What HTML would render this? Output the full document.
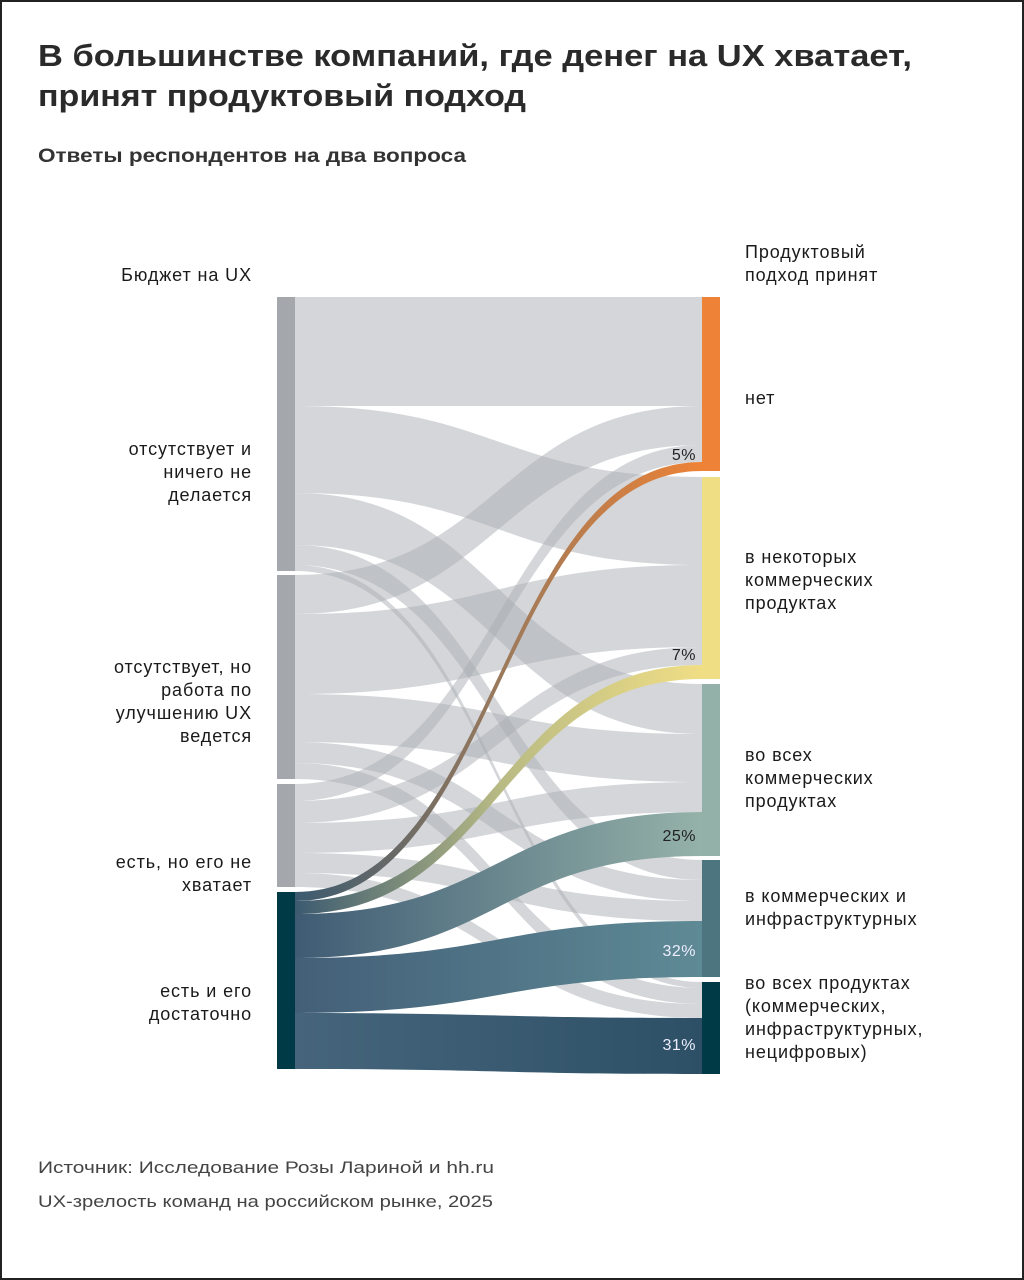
<!DOCTYPE html>
<html><head><meta charset="utf-8"><style>
html,body{margin:0;padding:0;background:#fff}
svg{display:block}
text{font-family:"Liberation Sans",sans-serif}
</style></head><body>
<svg width="1024" height="1280" viewBox="0 0 1024 1280" xmlns="http://www.w3.org/2000/svg">
<defs>
<linearGradient id="g1" gradientUnits="userSpaceOnUse" x1="295" y1="0" x2="702" y2="0"><stop offset="0" stop-color="#3b5a70"/><stop offset="0.5" stop-color="#9a7a5c"/><stop offset="1" stop-color="#ee8236"/></linearGradient>
<linearGradient id="g2" gradientUnits="userSpaceOnUse" x1="295" y1="0" x2="702" y2="0"><stop offset="0" stop-color="#3b5a70"/><stop offset="0.5" stop-color="#b8ba84"/><stop offset="1" stop-color="#f0de85"/></linearGradient>
<linearGradient id="g3" gradientUnits="userSpaceOnUse" x1="295" y1="0" x2="702" y2="0"><stop offset="0" stop-color="#3e5b74"/><stop offset="1" stop-color="#95b2a9"/></linearGradient>
<linearGradient id="g4" gradientUnits="userSpaceOnUse" x1="295" y1="0" x2="702" y2="0"><stop offset="0" stop-color="#435f78"/><stop offset="1" stop-color="#5e8a95"/></linearGradient>
<linearGradient id="g5" gradientUnits="userSpaceOnUse" x1="295" y1="0" x2="702" y2="0"><stop offset="0" stop-color="#46657c"/><stop offset="1" stop-color="#2d5066"/></linearGradient>
</defs>
<rect x="1" y="1" width="1022" height="1278" fill="#fff" stroke="#222" stroke-width="2"/>

<text x="38" y="66" font-size="31" font-weight="bold" fill="#2a2a2a" textLength="874" lengthAdjust="spacingAndGlyphs">В большинстве компаний, где денег на UX хватает,</text>
<text x="38" y="106" font-size="31" font-weight="bold" fill="#2a2a2a" textLength="488" lengthAdjust="spacingAndGlyphs">принят продуктовый подход</text>
<text x="38" y="162" font-size="19" font-weight="bold" fill="#333" textLength="428" lengthAdjust="spacingAndGlyphs">Ответы респондентов на два вопроса</text>

<g fill="#a9aeb3" fill-opacity="0.5">
<path d="M295,297 C498,297 498,297 702,297 L702,406 C498,406 498,406 295,406 Z"/>
<path d="M295,406 C498,406 498,477 702,477 L702,565 C498,565 498,493 295,493 Z"/>
<path d="M295,493 C498,493 498,684 702,684 L702,734 C498,734 498,545 295,545 Z"/>
<path d="M295,545 C498,545 498,860 702,860 L702,880 C498,880 498,565 295,565 Z"/>
<path d="M295,565 C498,565 498,982 702,982 L702,988 C498,988 498,571 295,571 Z"/>
<path d="M295,575 C498,575 498,406 702,406 L702,445 C498,445 498,614 295,614 Z"/>
<path d="M295,614 C498,614 498,565 702,565 L702,647 C498,647 498,694 295,694 Z"/>
<path d="M295,694 C498,694 498,734 702,734 L702,782 C498,782 498,742 295,742 Z"/>
<path d="M295,742 C498,742 498,880 702,880 L702,901 C498,901 498,763 295,763 Z"/>
<path d="M295,763 C498,763 498,988 702,988 L702,1004 C498,1004 498,779 295,779 Z"/>
<path d="M295,784 C498,784 498,445 702,445 L702,462 C498,462 498,801 295,801 Z"/>
<path d="M295,801 C498,801 498,647 702,647 L702,665 C498,665 498,823 295,823 Z"/>
<path d="M295,823 C498,823 498,782 702,782 L702,812 C498,812 498,853 295,853 Z"/>
<path d="M295,853 C498,853 498,901 702,901 L702,921 C498,921 498,873 295,873 Z"/>
<path d="M295,873 C498,873 498,1004 702,1004 L702,1018 C498,1018 498,887 295,887 Z"/>
</g>
<path d="M295,892 C498,892 498,462 702,462 L702,471 C498,471 498,901 295,901 Z" fill="url(#g1)"/>
<path d="M295,901 C498,901 498,665 702,665 L702,679 C498,679 498,914 295,914 Z" fill="url(#g2)"/>
<path d="M295,914 C498,914 498,812 702,812 L702,856 C498,856 498,958 295,958 Z" fill="url(#g3)"/>
<path d="M295,958 C498,958 498,921 702,921 L702,977 C498,977 498,1013 295,1013 Z" fill="url(#g4)"/>
<path d="M295,1013 C498,1013 498,1018 702,1018 L702,1074 C498,1074 498,1069 295,1069 Z" fill="url(#g5)"/>

<rect x="277" y="297" width="18" height="274" fill="#a4a8ad"/>
<rect x="277" y="575" width="18" height="204" fill="#a4a8ad"/>
<rect x="277" y="784" width="18" height="103" fill="#a4a8ad"/>
<rect x="277" y="892" width="18" height="177" fill="#003a46"/>

<rect x="702" y="297" width="18" height="174" fill="#ee8236"/>
<rect x="702" y="477" width="18" height="202" fill="#f0de85"/>
<rect x="702" y="684" width="18" height="172" fill="#93b1a8"/>
<rect x="702" y="860" width="18" height="117" fill="#4d7580"/>
<rect x="702" y="982" width="18" height="92" fill="#003a46"/>

<g font-size="16" text-anchor="end" letter-spacing="0.5">
<text x="696" y="460" fill="#222">5%</text>
<text x="696" y="660" fill="#222">7%</text>
<text x="696" y="841" fill="#222">25%</text>
<text x="696" y="956" fill="#eef">32%</text>
<text x="696" y="1050" fill="#eef">31%</text>
</g>

<g font-size="18" fill="#1a1a1a" text-anchor="end" letter-spacing="0.9">
<text x="252" y="281">Бюджет на UX</text>
<text x="252" y="455">отсутствует и</text>
<text x="252" y="478">ничего не</text>
<text x="252" y="501">делается</text>
<text x="252" y="673">отсутствует, но</text>
<text x="252" y="696">работа по</text>
<text x="252" y="719">улучшению UX</text>
<text x="252" y="742">ведется</text>
<text x="252" y="868">есть, но его не</text>
<text x="252" y="891">хватает</text>
<text x="252" y="997">есть и его</text>
<text x="252" y="1020">достаточно</text>
</g>
<g font-size="18" fill="#1a1a1a" letter-spacing="0.9">
<text x="745" y="258">Продуктовый</text>
<text x="745" y="281">подход принят</text>
<text x="745" y="404">нет</text>
<text x="745" y="563">в  некоторых</text>
<text x="745" y="586">коммерческих</text>
<text x="745" y="609">продуктах</text>
<text x="745" y="761">во всех</text>
<text x="745" y="784">коммерческих</text>
<text x="745" y="807">продуктах</text>
<text x="745" y="902">в коммерческих и</text>
<text x="745" y="925">инфраструктурных</text>
<text x="745" y="989">во всех продуктах</text>
<text x="745" y="1012">(коммерческих,</text>
<text x="745" y="1035">инфраструктурных,</text>
<text x="745" y="1058">нецифровых)</text>
</g>
<g font-size="17" fill="#444">
<text x="38" y="1173" textLength="456" lengthAdjust="spacingAndGlyphs">Источник: Исследование Розы Лариной и hh.ru</text>
<text x="38" y="1207" textLength="455" lengthAdjust="spacingAndGlyphs">UX-зрелость команд на российском рынке, 2025</text>
</g>
</svg>
</body></html>
